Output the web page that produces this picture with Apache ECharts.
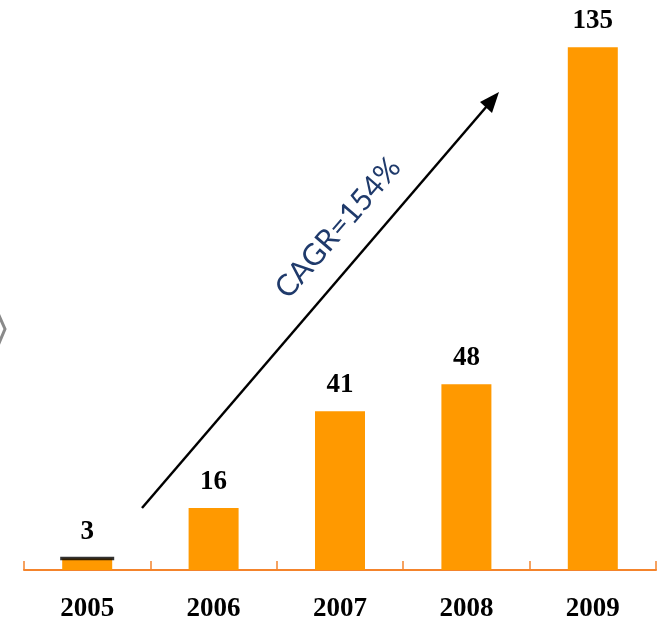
<!DOCTYPE html>
<html>
<head>
<meta charset="utf-8">
<script src="https://cdn.jsdelivr.net/npm/echarts@6/dist/echarts.min.js"></script>
<style>
  html, body { margin: 0; padding: 0; background: #ffffff; }
  #chart { width: 658px; height: 624px; }
</style>
</head>
<body>
<div id="chart"></div>
<script>
// Yearly values
const years = ['2005', '2006', '2007', '2008', '2009'];
const values = [3, 16, 41, 48, 135];
const growthLabel = 'CAGR=154%';

const chart = echarts.init(document.getElementById('chart'));

const serifBold = {
  fontFamily: '"Liberation Serif", "Times New Roman", serif',
  fontWeight: 'bold',
  fontSize: 27,
  color: '#000000'
};

chart.setOption({
  animation: false,
  grid: { left: 24, right: 2, top: 28, bottom: 54 },
  xAxis: {
    type: 'category',
    data: years,
    axisLine: { lineStyle: { color: '#F4842C', width: 2 } },
    axisTick: { show: true, inside: true, length: 9, lineStyle: { color: '#F4842C', width: 1.5 } },
    axisLabel: Object.assign({ margin: 26 }, serifBold)
  },
  yAxis: {
    type: 'value',
    min: 0,
    max: 140,
    show: false,
    splitLine: { show: false }
  },
  series: [
    {
      type: 'bar',
      data: values,
      barWidth: 50,
      itemStyle: { color: '#FF9900' },
      label: Object.assign({ show: true, position: 'top', distance: 13 }, serifBold)
    },
    {
      // dark cap on the first bar
      type: 'scatter',
      data: [[years[0], values[0]]],
      symbol: 'rect',
      symbolSize: [54, 3.5],
      itemStyle: { color: '#000000' },
      z: 5
    }
  ],
  graphic: [
    {
      type: 'line',
      shape: { x1: 142, y1: 508, x2: 487, y2: 106 },
      style: { stroke: '#000000', lineWidth: 2.5 }
    },
    {
      type: 'polygon',
      shape: { points: [[499, 92], [480, 102], [492, 113]] },
      style: { fill: '#000000' }
    },
    {
      type: 'text',
      x: 338,
      y: 228,
      rotation: 49.3 * Math.PI / 180,
      style: {
        text: growthLabel,
        fill: '#1F3A6B',
        font: '30px Lato, "Liberation Sans", Arial, sans-serif',
        align: 'center',
        verticalAlign: 'middle'
      }
    },
    {
      type: 'polyline',
      shape: { points: [[-3, 311], [5, 329], [-3, 348]] },
      style: { stroke: '#8a8a8a', lineWidth: 3, fill: null }
    }
  ]
});
</script>
</body>
</html>
